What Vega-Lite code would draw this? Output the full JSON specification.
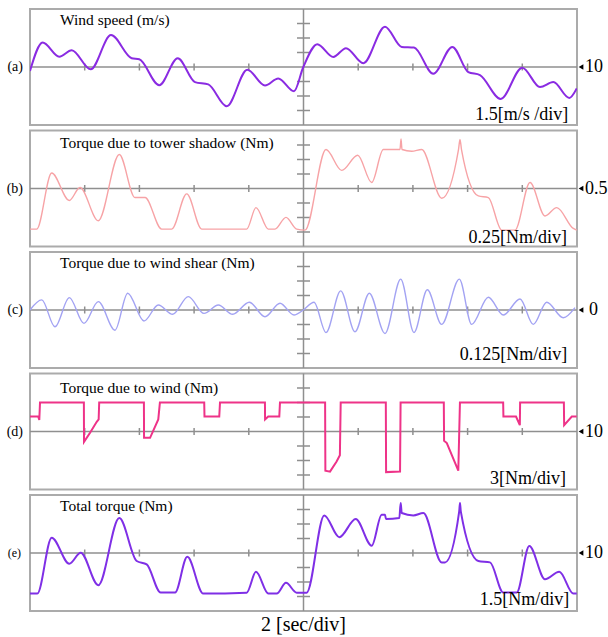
{
  "$schema": "https://vega.github.io/schema/vega-lite/v6.json",
  "padding": {"left": 5, "top": 7, "right": 0, "bottom": 0},
  "background": "white",
  "bounds": "flush",
  "spacing": 5.5,
  "config": {"view": {"stroke": "#ababab", "strokeWidth": 2}, "text": {"font": "Liberation Serif", "color": "black"}},
  "datasets": {
    "one": [{"k": 1}],
    "xt": [{"t": 2}, {"t": 4}, {"t": 6}, {"t": 8}, {"t": 12}, {"t": 14}, {"t": 16}, {"t": 18}],
    "ya": [{"v": 5.5}, {"v": 7}, {"v": 8.5}, {"v": 11.5}, {"v": 13}, {"v": 14.5}],
    "yb": [{"v": -0.25}, {"v": 0}, {"v": 0.25}, {"v": 0.75}, {"v": 1.0}, {"v": 1.25}],
    "yc": [{"v": -0.375}, {"v": -0.25}, {"v": -0.125}, {"v": 0.125}, {"v": 0.25}, {"v": 0.375}],
    "yd": [{"v": 1}, {"v": 4}, {"v": 7}, {"v": 13}, {"v": 16}, {"v": 19}],
    "a": [
      {"t": 0, "v": 9.58}, {"t": 0.464, "v": 12.53}, {"t": 1.071, "v": 11.07}, {"t": 1.525, "v": 11.74},
      {"t": 2.219, "v": 9.76}, {"t": 2.962, "v": 13.3}, {"t": 3.718, "v": 10.91}, {"t": 3.996, "v": 10.8},
      {"t": 4.728, "v": 8.12}, {"t": 5.4, "v": 10.91}, {"t": 6.033, "v": 8.44}, {"t": 6.519, "v": 8.2},
      {"t": 7.192, "v": 5.94}, {"t": 7.945, "v": 9.72}, {"t": 8.592, "v": 8.09}, {"t": 9.079, "v": 8.82},
      {"t": 9.653, "v": 7.5}, {"t": 9.993, "v": 10.0}, {"t": 10.505, "v": 12.36}, {"t": 11.09, "v": 11.04},
      {"t": 11.554, "v": 11.95}, {"t": 12.187, "v": 10.39}, {"t": 12.98, "v": 14.17}, {"t": 13.591, "v": 12.08},
      {"t": 14.04, "v": 12.01}, {"t": 14.746, "v": 9.3}, {"t": 15.441, "v": 12.08}, {"t": 16.026, "v": 9.48},
      {"t": 16.453, "v": 9.17}, {"t": 17.21, "v": 6.7}, {"t": 18.0, "v": 9.93}, {"t": 18.647, "v": 7.92},
      {"t": 19.133, "v": 8.44}, {"t": 19.718, "v": 6.8}, {"t": 19.99, "v": 7.78}
    ],
    "b": [
      {"t": 0, "v": -0.2}, {"t": 0.245, "v": -0.2}, {"t": 0.793, "v": 0.766}, {"t": 1.437, "v": 0.292},
      {"t": 1.828, "v": 0.517}, {"t": 2.497, "v": -0.056}, {"t": 3.265, "v": 1.085}, {"t": 3.839, "v": 0.344},
      {"t": 4.205, "v": 0.344}, {"t": 4.815, "v": -0.2}, {"t": 5.181, "v": -0.2}, {"t": 5.73, "v": 0.408},
      {"t": 6.278, "v": -0.2}, {"t": 7.923, "v": -0.2}, {"t": 8.263, "v": 0.17}, {"t": 8.713, "v": -0.2},
      {"t": 8.958, "v": -0.2}, {"t": 9.36, "v": 0.002}, {"t": 9.751, "v": -0.2}, {"t": 10.055, "v": -0.217},
      {"t": 10.823, "v": 1.172}, {"t": 11.397, "v": 0.812}, {"t": 11.982, "v": 1.073}, {"t": 12.494, "v": 0.604},
      {"t": 12.918, "v": 1.172}, {"t": 13.528, "v": 1.172}, {"t": 13.565, "v": 1.356}, {"t": 13.602, "v": 1.172},
      {"t": 13.956, "v": 1.142}, {"t": 14.322, "v": 1.172}, {"t": 15.053, "v": 0.332}, {"t": 15.667, "v": 1.172},
      {"t": 15.722, "v": 1.345}, {"t": 15.777, "v": 1.172}, {"t": 16.392, "v": 0.373}, {"t": 16.757, "v": 0.344},
      {"t": 17.247, "v": -0.217}, {"t": 17.733, "v": -0.217}, {"t": 18.282, "v": 0.604}, {"t": 18.83, "v": 0.026},
      {"t": 19.258, "v": 0.17}, {"t": 19.865, "v": -0.189}, {"t": 19.99, "v": -0.217}
    ],
    "c": [
      {"t": 0, "v": 0}, {"t": 0.428, "v": 0.087}, {"t": 0.914, "v": -0.145}, {"t": 1.437, "v": 0.107},
      {"t": 1.974, "v": -0.115}, {"t": 2.497, "v": 0.072}, {"t": 3.108, "v": -0.174}, {"t": 3.572, "v": 0.145},
      {"t": 4.168, "v": -0.095}, {"t": 4.691, "v": 0.043}, {"t": 5.218, "v": -0.037}, {"t": 5.788, "v": 0.115},
      {"t": 6.362, "v": -0.029}, {"t": 6.885, "v": 0.043}, {"t": 7.411, "v": -0.037}, {"t": 8.018, "v": 0.067},
      {"t": 8.592, "v": -0.058}, {"t": 9.141, "v": 0.058}, {"t": 9.653, "v": -0.043}, {"t": 9.993, "v": 0},
      {"t": 10.384, "v": 0.067}, {"t": 10.823, "v": -0.194}, {"t": 11.36, "v": 0.165}, {"t": 11.883, "v": -0.188},
      {"t": 12.406, "v": 0.145}, {"t": 12.98, "v": -0.202}, {"t": 13.554, "v": 0.266}, {"t": 14.04, "v": -0.194},
      {"t": 14.527, "v": 0.174}, {"t": 15.053, "v": -0.124}, {"t": 15.697, "v": 0.266}, {"t": 16.15, "v": -0.124},
      {"t": 16.757, "v": 0.11}, {"t": 17.306, "v": -0.043}, {"t": 17.916, "v": 0.095}, {"t": 18.402, "v": -0.124},
      {"t": 18.892, "v": 0.067}, {"t": 19.499, "v": -0.067}, {"t": 19.927, "v": 0.02}
    ],
    "d": [
      {"t": 0, "v": 13.1}, {"t": 0.3, "v": 13.1}, {"t": 0.34, "v": 12.4}, {"t": 0.366, "v": 16},
      {"t": 1.97, "v": 16}, {"t": 1.975, "v": 7.85}, {"t": 2.19, "v": 9.7}, {"t": 2.44, "v": 12.0},
      {"t": 2.51, "v": 12.5}, {"t": 2.53, "v": 16}, {"t": 4.165, "v": 16}, {"t": 4.17, "v": 8.7},
      {"t": 4.39, "v": 8.7}, {"t": 4.69, "v": 12.5}, {"t": 4.75, "v": 16}, {"t": 6.37, "v": 16},
      {"t": 6.38, "v": 13.1}, {"t": 6.92, "v": 13.1}, {"t": 6.947, "v": 16}, {"t": 8.59, "v": 16},
      {"t": 8.595, "v": 12.5}, {"t": 8.71, "v": 13.1}, {"t": 9.115, "v": 13.1}, {"t": 9.14, "v": 16},
      {"t": 10.79, "v": 16}, {"t": 10.8, "v": 1.9}, {"t": 10.97, "v": 1.7}, {"t": 11.21, "v": 3.8},
      {"t": 11.33, "v": 5.1}, {"t": 11.36, "v": 16}, {"t": 13.01, "v": 16}, {"t": 13.02, "v": 1.6},
      {"t": 13.53, "v": 1.7}, {"t": 13.55, "v": 16}, {"t": 15.13, "v": 16}, {"t": 15.14, "v": 8.1},
      {"t": 15.24, "v": 7.6}, {"t": 15.66, "v": 1.9}, {"t": 15.72, "v": 16}, {"t": 17.3, "v": 16},
      {"t": 17.31, "v": 13.1}, {"t": 17.77, "v": 13.1}, {"t": 17.91, "v": 11.3}, {"t": 17.92, "v": 16},
      {"t": 19.52, "v": 16}, {"t": 19.53, "v": 11.3}, {"t": 19.81, "v": 13.1}, {"t": 19.99, "v": 13.1}
    ],
    "e": [
      {"t": 0, "v": 5.8}, {"t": 0.267, "v": 5.8}, {"t": 0.793, "v": 11.59}, {"t": 1.437, "v": 8.89},
      {"t": 1.854, "v": 10.03}, {"t": 2.497, "v": 6.67}, {"t": 3.265, "v": 13.61}, {"t": 3.901, "v": 9.17},
      {"t": 4.267, "v": 8.82}, {"t": 4.779, "v": 5.91}, {"t": 5.302, "v": 5.91}, {"t": 5.751, "v": 9.61},
      {"t": 6.336, "v": 5.8}, {"t": 7.923, "v": 5.9}, {"t": 8.263, "v": 8.05}, {"t": 8.713, "v": 5.8},
      {"t": 9.02, "v": 5.8}, {"t": 9.36, "v": 6.91}, {"t": 9.751, "v": 5.9}, {"t": 10.116, "v": 5.9},
      {"t": 10.76, "v": 13.89}, {"t": 11.309, "v": 11.64}, {"t": 11.909, "v": 13.51}, {"t": 12.494, "v": 10.76},
      {"t": 12.86, "v": 13.96}, {"t": 12.98, "v": 13.96}, {"t": 13.016, "v": 13.51}, {"t": 13.503, "v": 13.61},
      {"t": 13.554, "v": 15.18}, {"t": 13.591, "v": 14.14}, {"t": 14.015, "v": 13.89}, {"t": 14.381, "v": 14.14},
      {"t": 15.053, "v": 9.03}, {"t": 15.174, "v": 9.03}, {"t": 15.693, "v": 14.3}, {"t": 15.722, "v": 15.18},
      {"t": 15.751, "v": 14.3}, {"t": 16.392, "v": 9.17}, {"t": 16.819, "v": 9.03}, {"t": 17.306, "v": 5.91},
      {"t": 17.795, "v": 5.91}, {"t": 18.256, "v": 10.73}, {"t": 18.83, "v": 7.29}, {"t": 19.353, "v": 8.05},
      {"t": 19.865, "v": 5.8}, {"t": 19.99, "v": 5.8}
    ]
  },
  "vconcat": [
    {
      "width": 547, "height": 116,
      "layer": [
        {"data": {"name": "one"}, "mark": {"type": "rule", "color": "#8f8f8f", "strokeWidth": 1.5}, "encoding": {"y": {"datum": 10, "type": "quantitative", "scale": {"domain": [4, 16], "nice": false, "zero": false}, "axis": null}}},
        {"data": {"name": "one"}, "mark": {"type": "rule", "color": "#8f8f8f", "strokeWidth": 1.5}, "encoding": {"x": {"datum": 10, "type": "quantitative", "scale": {"domain": [0, 20], "nice": false, "zero": false}, "axis": null}}},
        {"data": {"name": "xt"}, "mark": {"type": "tick", "orient": "vertical", "size": 7, "thickness": 1.5, "color": "#8f8f8f", "opacity": 1}, "encoding": {"x": {"field": "t", "type": "quantitative", "scale": {"domain": [0, 20]}, "axis": null}, "y": {"datum": 10, "type": "quantitative", "scale": {"domain": [4, 16]}, "axis": null}}},
        {"data": {"name": "ya"}, "mark": {"type": "tick", "orient": "horizontal", "size": 13, "thickness": 1.5, "color": "#8f8f8f", "opacity": 1}, "encoding": {"y": {"field": "v", "type": "quantitative", "scale": {"domain": [4, 16]}, "axis": null}, "x": {"datum": 10, "type": "quantitative", "scale": {"domain": [0, 20]}, "axis": null}}},
        {"data": {"name": "a"}, "mark": {"type": "line", "color": "#8a2be2", "strokeWidth": 2, "interpolate": "monotone", "clip": true}, "encoding": {"x": {"field": "t", "type": "quantitative", "scale": {"domain": [0, 20]}, "axis": null}, "y": {"field": "v", "type": "quantitative", "scale": {"domain": [4, 16]}, "axis": null}}},
        {"data": {"name": "one"}, "mark": {"type": "text", "align": "left", "baseline": "alphabetic", "fontSize": 15.5, "dx": 30, "dy": 15.5}, "encoding": {"x": {"datum": 0, "type": "quantitative", "axis": null}, "y": {"datum": 16, "type": "quantitative", "axis": null}, "text": {"value": "Wind speed (m/s)"}}},
        {"data": {"name": "one"}, "mark": {"type": "text", "align": "right", "baseline": "alphabetic", "fontSize": 18, "dx": -8.7, "dy": -4.7}, "encoding": {"x": {"datum": 20, "type": "quantitative", "axis": null}, "y": {"datum": 4, "type": "quantitative", "axis": null}, "text": {"value": "1.5[m/s /div]"}}},
        {"data": {"name": "one"}, "mark": {"type": "text", "align": "right", "baseline": "middle", "fontSize": 14, "dx": -7}, "encoding": {"x": {"datum": 0, "type": "quantitative", "axis": null}, "y": {"datum": 10, "type": "quantitative", "axis": null}, "text": {"value": "(a)"}}},
        {"data": {"name": "one"}, "mark": {"type": "point", "shape": "triangle-left", "filled": true, "color": "black", "opacity": 1, "size": 30, "xOffset": 4, "clip": false}, "encoding": {"x": {"datum": 20, "type": "quantitative", "axis": null}, "y": {"datum": 10, "type": "quantitative", "axis": null}}},
        {"data": {"name": "one"}, "mark": {"type": "text", "align": "left", "baseline": "middle", "fontSize": 18, "dx": 8}, "encoding": {"x": {"datum": 20, "type": "quantitative", "axis": null}, "y": {"datum": 10, "type": "quantitative", "axis": null}, "text": {"value": "10"}}}
      ]
    },
    {
      "width": 547, "height": 116,
      "layer": [
        {"data": {"name": "one"}, "mark": {"type": "rule", "color": "#8f8f8f", "strokeWidth": 1.5}, "encoding": {"y": {"datum": 0.5, "type": "quantitative", "scale": {"domain": [-0.5, 1.5], "nice": false, "zero": false}, "axis": null}}},
        {"data": {"name": "one"}, "mark": {"type": "rule", "color": "#8f8f8f", "strokeWidth": 1.5}, "encoding": {"x": {"datum": 10, "type": "quantitative", "scale": {"domain": [0, 20], "nice": false, "zero": false}, "axis": null}}},
        {"data": {"name": "xt"}, "mark": {"type": "tick", "orient": "vertical", "size": 7, "thickness": 1.5, "color": "#8f8f8f", "opacity": 1}, "encoding": {"x": {"field": "t", "type": "quantitative", "scale": {"domain": [0, 20]}, "axis": null}, "y": {"datum": 0.5, "type": "quantitative", "scale": {"domain": [-0.5, 1.5]}, "axis": null}}},
        {"data": {"name": "yb"}, "mark": {"type": "tick", "orient": "horizontal", "size": 13, "thickness": 1.5, "color": "#8f8f8f", "opacity": 1}, "encoding": {"y": {"field": "v", "type": "quantitative", "scale": {"domain": [-0.5, 1.5]}, "axis": null}, "x": {"datum": 10, "type": "quantitative", "scale": {"domain": [0, 20]}, "axis": null}}},
        {"data": {"name": "b"}, "mark": {"type": "line", "color": "#f7a3a6", "strokeWidth": 1.4, "interpolate": "monotone", "clip": true}, "encoding": {"x": {"field": "t", "type": "quantitative", "scale": {"domain": [0, 20]}, "axis": null}, "y": {"field": "v", "type": "quantitative", "scale": {"domain": [-0.5, 1.5]}, "axis": null}}},
        {"data": {"name": "one"}, "mark": {"type": "text", "align": "left", "baseline": "alphabetic", "fontSize": 15.5, "dx": 30, "dy": 17.5}, "encoding": {"x": {"datum": 0, "type": "quantitative", "axis": null}, "y": {"datum": 1.5, "type": "quantitative", "axis": null}, "text": {"value": "Torque due to tower shadow (Nm)"}}},
        {"data": {"name": "one"}, "mark": {"type": "text", "align": "right", "baseline": "alphabetic", "fontSize": 18, "dx": -10, "dy": -4}, "encoding": {"x": {"datum": 20, "type": "quantitative", "axis": null}, "y": {"datum": -0.5, "type": "quantitative", "axis": null}, "text": {"value": "0.25[Nm/div]"}}},
        {"data": {"name": "one"}, "mark": {"type": "text", "align": "right", "baseline": "middle", "fontSize": 14, "dx": -7}, "encoding": {"x": {"datum": 0, "type": "quantitative", "axis": null}, "y": {"datum": 0.5, "type": "quantitative", "axis": null}, "text": {"value": "(b)"}}},
        {"data": {"name": "one"}, "mark": {"type": "point", "shape": "triangle-left", "filled": true, "color": "black", "opacity": 1, "size": 30, "xOffset": 4, "clip": false}, "encoding": {"x": {"datum": 20, "type": "quantitative", "axis": null}, "y": {"datum": 0.5, "type": "quantitative", "axis": null}}},
        {"data": {"name": "one"}, "mark": {"type": "text", "align": "left", "baseline": "middle", "fontSize": 18, "dx": 8}, "encoding": {"x": {"datum": 20, "type": "quantitative", "axis": null}, "y": {"datum": 0.5, "type": "quantitative", "axis": null}, "text": {"value": "0.5"}}}
      ]
    },
    {
      "width": 547, "height": 116,
      "layer": [
        {"data": {"name": "one"}, "mark": {"type": "rule", "color": "#8f8f8f", "strokeWidth": 1.5}, "encoding": {"y": {"datum": 0, "type": "quantitative", "scale": {"domain": [-0.5, 0.5], "nice": false, "zero": false}, "axis": null}}},
        {"data": {"name": "one"}, "mark": {"type": "rule", "color": "#8f8f8f", "strokeWidth": 1.5}, "encoding": {"x": {"datum": 10, "type": "quantitative", "scale": {"domain": [0, 20], "nice": false, "zero": false}, "axis": null}}},
        {"data": {"name": "xt"}, "mark": {"type": "tick", "orient": "vertical", "size": 7, "thickness": 1.5, "color": "#8f8f8f", "opacity": 1}, "encoding": {"x": {"field": "t", "type": "quantitative", "scale": {"domain": [0, 20]}, "axis": null}, "y": {"datum": 0, "type": "quantitative", "scale": {"domain": [-0.5, 0.5]}, "axis": null}}},
        {"data": {"name": "yc"}, "mark": {"type": "tick", "orient": "horizontal", "size": 13, "thickness": 1.5, "color": "#8f8f8f", "opacity": 1}, "encoding": {"y": {"field": "v", "type": "quantitative", "scale": {"domain": [-0.5, 0.5]}, "axis": null}, "x": {"datum": 10, "type": "quantitative", "scale": {"domain": [0, 20]}, "axis": null}}},
        {"data": {"name": "c"}, "mark": {"type": "line", "color": "#a3a3f3", "strokeWidth": 1.4, "interpolate": "monotone", "clip": true}, "encoding": {"x": {"field": "t", "type": "quantitative", "scale": {"domain": [0, 20]}, "axis": null}, "y": {"field": "v", "type": "quantitative", "scale": {"domain": [-0.5, 0.5]}, "axis": null}}},
        {"data": {"name": "one"}, "mark": {"type": "text", "align": "left", "baseline": "alphabetic", "fontSize": 15.5, "dx": 30, "dy": 15.5}, "encoding": {"x": {"datum": 0, "type": "quantitative", "axis": null}, "y": {"datum": 0.5, "type": "quantitative", "axis": null}, "text": {"value": "Torque due to wind shear (Nm)"}}},
        {"data": {"name": "one"}, "mark": {"type": "text", "align": "right", "baseline": "alphabetic", "fontSize": 18, "dx": -9.7, "dy": -8.5}, "encoding": {"x": {"datum": 20, "type": "quantitative", "axis": null}, "y": {"datum": -0.5, "type": "quantitative", "axis": null}, "text": {"value": "0.125[Nm/div]"}}},
        {"data": {"name": "one"}, "mark": {"type": "text", "align": "right", "baseline": "middle", "fontSize": 14, "dx": -7}, "encoding": {"x": {"datum": 0, "type": "quantitative", "axis": null}, "y": {"datum": 0, "type": "quantitative", "axis": null}, "text": {"value": "(c)"}}},
        {"data": {"name": "one"}, "mark": {"type": "point", "shape": "triangle-left", "filled": true, "color": "black", "opacity": 1, "size": 30, "xOffset": 4, "clip": false}, "encoding": {"x": {"datum": 20, "type": "quantitative", "axis": null}, "y": {"datum": 0, "type": "quantitative", "axis": null}}},
        {"data": {"name": "one"}, "mark": {"type": "text", "align": "left", "baseline": "middle", "fontSize": 18, "dx": 12}, "encoding": {"x": {"datum": 20, "type": "quantitative", "axis": null}, "y": {"datum": 0, "type": "quantitative", "axis": null}, "text": {"value": "0"}}}
      ]
    },
    {
      "width": 547, "height": 116,
      "layer": [
        {"data": {"name": "one"}, "mark": {"type": "rule", "color": "#8f8f8f", "strokeWidth": 1.5}, "encoding": {"y": {"datum": 10, "type": "quantitative", "scale": {"domain": [-2, 22], "nice": false, "zero": false}, "axis": null}}},
        {"data": {"name": "one"}, "mark": {"type": "rule", "color": "#8f8f8f", "strokeWidth": 1.5}, "encoding": {"x": {"datum": 10, "type": "quantitative", "scale": {"domain": [0, 20], "nice": false, "zero": false}, "axis": null}}},
        {"data": {"name": "xt"}, "mark": {"type": "tick", "orient": "vertical", "size": 7, "thickness": 1.5, "color": "#8f8f8f", "opacity": 1}, "encoding": {"x": {"field": "t", "type": "quantitative", "scale": {"domain": [0, 20]}, "axis": null}, "y": {"datum": 10, "type": "quantitative", "scale": {"domain": [-2, 22]}, "axis": null}}},
        {"data": {"name": "yd"}, "mark": {"type": "tick", "orient": "horizontal", "size": 13, "thickness": 1.5, "color": "#8f8f8f", "opacity": 1}, "encoding": {"y": {"field": "v", "type": "quantitative", "scale": {"domain": [-2, 22]}, "axis": null}, "x": {"datum": 10, "type": "quantitative", "scale": {"domain": [0, 20]}, "axis": null}}},
        {"data": {"name": "d"}, "mark": {"type": "line", "color": "#ee3388", "strokeWidth": 2, "interpolate": "linear", "clip": true}, "encoding": {"x": {"field": "t", "type": "quantitative", "scale": {"domain": [0, 20]}, "axis": null}, "y": {"field": "v", "type": "quantitative", "scale": {"domain": [-2, 22]}, "axis": null}}},
        {"data": {"name": "one"}, "mark": {"type": "text", "align": "left", "baseline": "alphabetic", "fontSize": 15.5, "dx": 30, "dy": 19.5}, "encoding": {"x": {"datum": 0, "type": "quantitative", "axis": null}, "y": {"datum": 22, "type": "quantitative", "axis": null}, "text": {"value": "Torque due to wind (Nm)"}}},
        {"data": {"name": "one"}, "mark": {"type": "text", "align": "right", "baseline": "alphabetic", "fontSize": 18, "dx": -11, "dy": -5.7}, "encoding": {"x": {"datum": 20, "type": "quantitative", "axis": null}, "y": {"datum": -2, "type": "quantitative", "axis": null}, "text": {"value": "3[Nm/div]"}}},
        {"data": {"name": "one"}, "mark": {"type": "text", "align": "right", "baseline": "middle", "fontSize": 14, "dx": -7}, "encoding": {"x": {"datum": 0, "type": "quantitative", "axis": null}, "y": {"datum": 10, "type": "quantitative", "axis": null}, "text": {"value": "(d)"}}},
        {"data": {"name": "one"}, "mark": {"type": "point", "shape": "triangle-left", "filled": true, "color": "black", "opacity": 1, "size": 30, "xOffset": 4, "clip": false}, "encoding": {"x": {"datum": 20, "type": "quantitative", "axis": null}, "y": {"datum": 10, "type": "quantitative", "axis": null}}},
        {"data": {"name": "one"}, "mark": {"type": "text", "align": "left", "baseline": "middle", "fontSize": 18, "dx": 8}, "encoding": {"x": {"datum": 20, "type": "quantitative", "axis": null}, "y": {"datum": 10, "type": "quantitative", "axis": null}, "text": {"value": "10"}}}
      ]
    },
    {
      "width": 547, "height": 116,
      "layer": [
        {"data": {"name": "one"}, "mark": {"type": "rule", "color": "#8f8f8f", "strokeWidth": 1.5}, "encoding": {"y": {"datum": 10, "type": "quantitative", "scale": {"domain": [4, 16], "nice": false, "zero": false}, "axis": null}}},
        {"data": {"name": "one"}, "mark": {"type": "rule", "color": "#8f8f8f", "strokeWidth": 1.5}, "encoding": {"x": {"datum": 10, "type": "quantitative", "scale": {"domain": [0, 20], "nice": false, "zero": false}, "axis": null}}},
        {"data": {"name": "xt"}, "mark": {"type": "tick", "orient": "vertical", "size": 7, "thickness": 1.5, "color": "#8f8f8f", "opacity": 1}, "encoding": {"x": {"field": "t", "type": "quantitative", "scale": {"domain": [0, 20]}, "axis": null}, "y": {"datum": 10, "type": "quantitative", "scale": {"domain": [4, 16]}, "axis": null}}},
        {"data": {"name": "ya"}, "mark": {"type": "tick", "orient": "horizontal", "size": 13, "thickness": 1.5, "color": "#8f8f8f", "opacity": 1}, "encoding": {"y": {"field": "v", "type": "quantitative", "scale": {"domain": [4, 16]}, "axis": null}, "x": {"datum": 10, "type": "quantitative", "scale": {"domain": [0, 20]}, "axis": null}}},
        {"data": {"name": "e"}, "mark": {"type": "line", "color": "#7f2fe6", "strokeWidth": 2, "interpolate": "monotone", "clip": true}, "encoding": {"x": {"field": "t", "type": "quantitative", "scale": {"domain": [0, 20]}, "axis": null}, "y": {"field": "v", "type": "quantitative", "scale": {"domain": [4, 16]}, "axis": null}}},
        {"data": {"name": "one"}, "mark": {"type": "text", "align": "left", "baseline": "alphabetic", "fontSize": 15.5, "dx": 30, "dy": 16}, "encoding": {"x": {"datum": 0, "type": "quantitative", "axis": null}, "y": {"datum": 16, "type": "quantitative", "axis": null}, "text": {"value": "Total torque (Nm)"}}},
        {"data": {"name": "one"}, "mark": {"type": "text", "align": "right", "baseline": "alphabetic", "fontSize": 18, "dx": -7.7, "dy": -6}, "encoding": {"x": {"datum": 20, "type": "quantitative", "axis": null}, "y": {"datum": 4, "type": "quantitative", "axis": null}, "text": {"value": "1.5[Nm/div]"}}},
        {"data": {"name": "one"}, "mark": {"type": "text", "align": "right", "baseline": "middle", "fontSize": 12, "dx": -9}, "encoding": {"x": {"datum": 0, "type": "quantitative", "axis": null}, "y": {"datum": 10, "type": "quantitative", "axis": null}, "text": {"value": "(e)"}}},
        {"data": {"name": "one"}, "mark": {"type": "point", "shape": "triangle-left", "filled": true, "color": "black", "opacity": 1, "size": 30, "xOffset": 4, "clip": false}, "encoding": {"x": {"datum": 20, "type": "quantitative", "axis": null}, "y": {"datum": 10, "type": "quantitative", "axis": null}}},
        {"data": {"name": "one"}, "mark": {"type": "text", "align": "left", "baseline": "middle", "fontSize": 18, "dx": 8}, "encoding": {"x": {"datum": 20, "type": "quantitative", "axis": null}, "y": {"datum": 10, "type": "quantitative", "axis": null}, "text": {"value": "10"}}},
        {"data": {"name": "one"}, "mark": {"type": "text", "align": "center", "baseline": "alphabetic", "fontSize": 20, "dy": 20}, "encoding": {"x": {"datum": 10, "type": "quantitative", "axis": null}, "y": {"datum": 4, "type": "quantitative", "axis": null}, "text": {"value": "2 [sec/div]"}}}
      ]
    }
  ]
}
